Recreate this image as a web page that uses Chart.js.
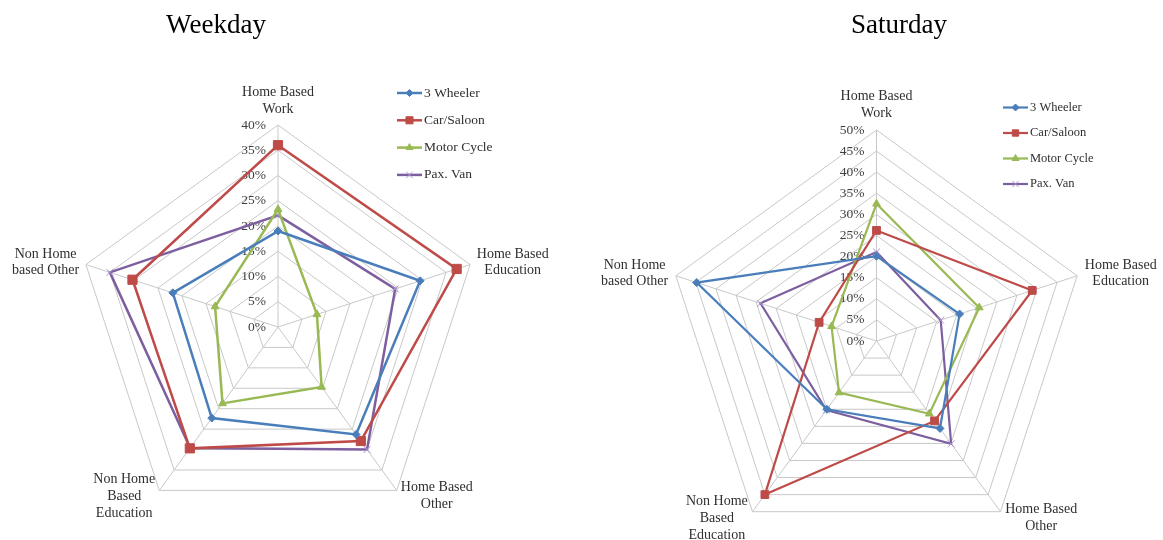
<!DOCTYPE html>
<html>
<head>
<meta charset="utf-8">
<script src="https://cdn.jsdelivr.net/npm/chart.js@4/dist/chart.umd.min.js"></script>
<style>
  html, body { margin: 0; padding: 0; background: #fff; }
  #wrap { position: relative; width: 1163px; height: 540px; overflow: hidden; }
  canvas { position: absolute; top: 0; }
  #cWeekday { left: 0; }
  #cSaturday { left: 581px; }
</style>
</head>
<body>
<div id="wrap">
  <canvas id="cWeekday" width="581" height="540"></canvas>
  <canvas id="cSaturday" width="582" height="540"></canvas>
</div>
<script>
// Trip purposes (radar axes), multi-line labels
const purposes = [
  ['Home Based', 'Work'],
  ['Home Based', 'Education'],
  ['Home Based', 'Other'],
  ['Non Home', 'Based', 'Education'],
  ['Non Home', 'based Other']
];
const seriesNames = ['3 Wheeler', 'Car/Saloon', 'Motor Cycle', 'Pax. Van'];

// Weekday trip shares (%)
const weekdayThreeWheeler = [19.0, 29.6, 26.3, 22.3, 21.9];
const weekdayCar          = [36.0, 37.2, 27.9, 29.7, 30.3];
const weekdayMotorCycle   = [23.3,  8.1, 14.7, 18.7, 13.1];
const weekdayPaxVan       = [22.1, 24.4, 30.0, 29.6, 35.0];

// Saturday trip shares (%)
const saturdayThreeWheeler = [20.1, 20.7, 25.6, 20.0, 44.8];
const saturdayCar          = [26.2, 38.8, 23.4, 45.0, 14.3];
const saturdayMotorCycle   = [32.5, 25.6, 21.3, 15.1, 11.2];
const saturdayPaxVan       = [21.1, 16.0, 30.1, 20.2, 28.9];

// Radial axis ranges (tick labels every 5 %)
const weekdayAxisMax = 40;
const saturdayAxisMax = 50;
const tickStep = 5;

const SERIF = '"Liberation Serif", "Times New Roman", serif';

const seriesStyles = [
  { color: '#4a7ebb', point: 'rectRot',  fill: '#4a7ebb', edge: '#4a7ebb' },
  { color: '#be4b48', point: 'rect',     fill: '#be4b48', edge: '#be4b48' },
  { color: '#98b954', point: 'triangle', fill: '#98b954', edge: '#98b954' },
  { color: '#7d5fa0', point: 'crossRot', fill: '#a996d2', edge: '#a996d2' }
];

// Draws tick labels, axis labels, title and legend around the radar
const radarDecor = {
  id: 'radarDecor',
  beforeDatasetsDraw(chart, args, o) {
    const s = chart.scales.r;
    const ctx = chart.ctx;
    ctx.save();
    // tick labels, right-aligned beside the vertical axis
    ctx.font = o.tickFont + 'px ' + SERIF;
    ctx.fillStyle = '#3f3f3f';
    ctx.textAlign = 'right';
    ctx.textBaseline = 'middle';
    s.ticks.forEach(t => {
      const d = s.getDistanceFromCenterForValue(t.value);
      ctx.fillText(t.label, s.xCenter - o.tickGap, s.yCenter - d);
    });
    // category labels at each spoke
    ctx.font = o.labelFont + 'px ' + SERIF;
    ctx.fillStyle = '#2f2f2f';
    ctx.textAlign = 'center';
    const lh = o.labelFont * 1.2;
    chart.data.labels.forEach((lines, i) => {
      const p = s.getPointPosition(i, s.drawingArea + o.labelGap);
      const w = Math.max(...lines.map(l => ctx.measureText(l).width));
      const h = lines.length * lh;
      const dx = p.x - s.xCenter;
      let cx, top;
      if (Math.abs(dx) < 1) { cx = p.x; top = p.y - h; }
      else if (dx > 0) { cx = p.x + w / 2; top = p.y - h / 2; }
      else { cx = p.x - w / 2; top = p.y - h / 2; }
      lines.forEach((l, k) => ctx.fillText(l, cx, top + lh * (k + 0.5)));
    });
    ctx.restore();
  },
  afterDraw(chart, args, o) {
    const ctx = chart.ctx;
    ctx.save();
    // title
    ctx.font = '27px ' + SERIF;
    ctx.fillStyle = '#000';
    ctx.textAlign = 'center';
    ctx.textBaseline = 'middle';
    ctx.fillText(o.title, o.titleX, o.titleY);
    // legend
    ctx.font = o.legendFont + 'px ' + SERIF;
    ctx.fillStyle = '#2f2f2f';
    ctx.textAlign = 'left';
    chart.data.datasets.forEach((ds, i) => {
      const y = o.legendY + i * o.legendStep;
      ctx.strokeStyle = ds.borderColor;
      ctx.lineWidth = ds.borderWidth;
      ctx.beginPath();
      ctx.moveTo(o.legendX, y);
      ctx.lineTo(o.legendX + 25, y);
      ctx.stroke();
      ctx.fillStyle = ds.pointBackgroundColor;
      ctx.strokeStyle = ds.pointBorderColor;
      ctx.lineWidth = ds.pointBorderWidth;
      Chart.helpers.drawPoint(ctx, {
        pointStyle: ds.pointStyle, radius: ds.legendRadius, rotation: 0, borderWidth: ds.pointBorderWidth
      }, o.legendX + 12.5, y);
      ctx.fillStyle = '#2f2f2f';
      ctx.fillText(ds.label, o.legendX + 27, y);
    });
    ctx.restore();
  }
};

function buildRadar(id, seriesValues, axisMax, geo, decor, look) {
  const datasets = seriesValues.map((vals, i) => {
    const st = seriesStyles[i];
    return {
      label: seriesNames[i],
      data: vals,
      borderColor: st.color,
      borderWidth: look.lineWidth,
      backgroundColor: 'transparent',
      fill: false,
      pointStyle: st.point,
      pointRadius: look.radii[i],
      pointHoverRadius: look.radii[i],
      pointBackgroundColor: st.fill,
      pointBorderColor: st.edge,
      pointBorderWidth: 1,
      legendRadius: look.legendRadii[i],
      tension: 0
    };
  });
  return new Chart(document.getElementById(id), {
    type: 'radar',
    data: { labels: purposes, datasets },
    options: {
      responsive: false,
      animation: false,
      devicePixelRatio: 1,
      layout: { padding: 0 },
      plugins: { legend: { display: false }, tooltip: { enabled: false }, radarDecor: decor },
      scales: {
        r: {
          min: 0,
          max: axisMax,
          ticks: { stepSize: tickStep, display: false, callback: v => v + '%' },
          grid: { color: '#c8c8c8', lineWidth: 1, circular: false },
          angleLines: { color: '#c8c8c8', lineWidth: 1 },
          pointLabels: { display: false },
          beforeFit(scale) {
            // fixed centre and radius for the polygon grid
            scale.setCenterPoint = function () {
              this.xCenter = geo.cx;
              this.yCenter = geo.cy;
              this.drawingArea = geo.r;
            };
          }
        }
      }
    },
    plugins: [radarDecor]
  });
}

buildRadar('cWeekday',
  [weekdayThreeWheeler, weekdayCar, weekdayMotorCycle, weekdayPaxVan],
  weekdayAxisMax,
  { cx: 278, cy: 327, r: 202 },
  { title: 'Weekday', titleX: 216, titleY: 26, tickFont: 13.5, tickGap: 12, labelFont: 14, labelGap: 7,
    legendX: 397, legendY: 93, legendStep: 27.3, legendFont: 13.5 },
  { lineWidth: 2.5, radii: [4, 6.5, 4.5, 5], legendRadii: [3.5, 5, 4, 4.5] });

buildRadar('cSaturday',
  [saturdayThreeWheeler, saturdayCar, saturdayMotorCycle, saturdayPaxVan],
  saturdayAxisMax,
  { cx: 295.5, cy: 341, r: 211 },
  { title: 'Saturday', titleX: 318, titleY: 26, tickFont: 13.5, tickGap: 12, labelFont: 14, labelGap: 8,
    legendX: 422, legendY: 107.5, legendStep: 25.5, legendFont: 12.5 },
  { lineWidth: 2.2, radii: [4, 5.5, 4.5, 5], legendRadii: [3.5, 4.5, 4, 4.5] });
</script>
</body>
</html>
